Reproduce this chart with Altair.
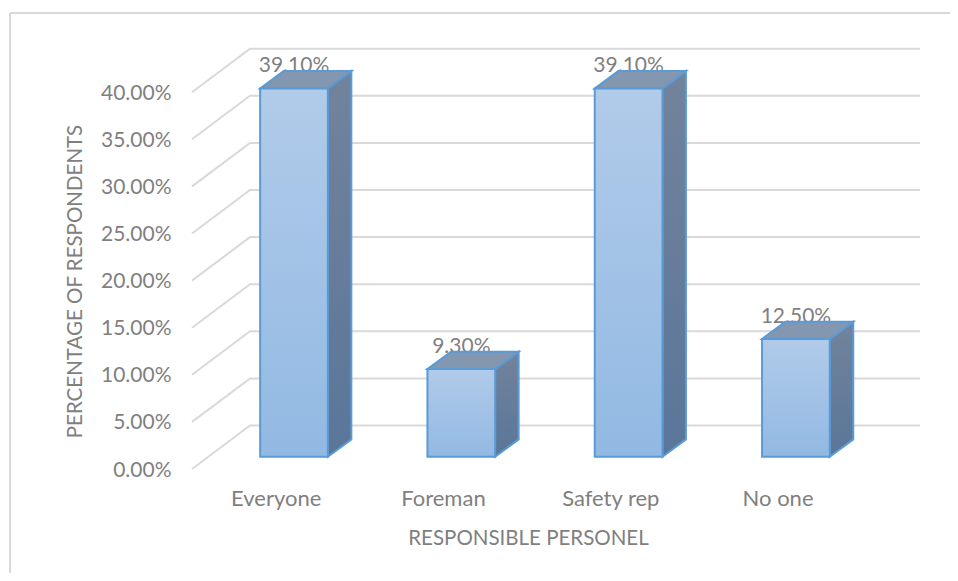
import altair as alt
import pandas as pd

categories = ["Everyone", "Foreman", "Safety rep", "No one"]
values = [0.391, 0.093, 0.391, 0.125]
ticks = [0.0, 0.05, 0.10, 0.15, 0.20, 0.25, 0.30, 0.35, 0.40]

FONT = "Lato"
GREY = "#7f7f7f"
GRID = "#d9d9d9"
EDGE = "#5b9bd5"

# scale geometry (one category = 167.3 px, 1 % = 9.42 px)
W, H = 728, 420
X_MAX = W / 167.3
Y_MAX = H / 942.0
WALL_DX, WALL_DY = 58 / 167.3, 43.5 / 942.0
BAR_DX, BAR_DY = 23.5 / 167.3, 17.3 / 942.0
BAR_C, BAR_W = 102 / 167.3, 67.7 / 167.3
BASE = 12.3 / 942.0

xs = alt.Scale(domain=[0, X_MAX], nice=False, zero=False)
ys = alt.Scale(domain=[0, Y_MAX], nice=False, zero=False)

grid_rows = []
for t in ticks:
    grid_rows += [
        {"t": t, "x": 0, "y": t, "o": 0},
        {"t": t, "x": WALL_DX, "y": t + WALL_DY, "o": 1},
        {"t": t, "x": X_MAX, "y": t + WALL_DY, "o": 2},
    ]

front, side, top, labels = [], [], [], []
for i, (c, v) in enumerate(zip(categories, values)):
    x0 = i + BAR_C - BAR_W / 2
    x1 = x0 + BAR_W
    y1 = BASE + v
    front.append({"c": c, "x": x0, "x2": x1, "y": BASE, "y2": y1})
    side += [
        {"c": c, "x": x1, "y": BASE, "y2": y1},
        {"c": c, "x": x1 + BAR_DX, "y": BASE + BAR_DY, "y2": y1 + BAR_DY},
    ]
    top += [
        {"c": c, "y": y1, "x": x0, "x2": x1},
        {"c": c, "y": y1 + BAR_DY, "x": x0 + BAR_DX, "x2": x1 + BAR_DX},
    ]
    labels.append({"c": c, "x": i + BAR_C, "y": y1 + BAR_DY, "v": v})


def grad(a, b):
    return alt.LinearGradient(
        gradient="linear", x1=0, x2=0, y1=0, y2=1,
        stops=[alt.GradientStop(color=a, offset=0), alt.GradientStop(color=b, offset=1)],
    )


X = lambda **k: alt.X("x:Q", scale=xs, **k)
Y = lambda **k: alt.Y("y:Q", scale=ys, **k)

one = pd.DataFrame({"a": [0]})
frame_top = alt.Chart(one).mark_rule(color=GRID, strokeWidth=2).encode(
    x=alt.value(-182), x2=alt.value(758), y=alt.value(-36)
)
frame_left = alt.Chart(one).mark_rule(color=GRID, strokeWidth=2).encode(
    x=alt.value(-182), y=alt.value(-36), y2=alt.value(524)
)

grid = alt.Chart(pd.DataFrame(grid_rows)).mark_line(color=GRID, strokeWidth=2).encode(
    x=X(
        title="RESPONSIBLE PERSONEL",
        axis=alt.Axis(
            values=[0.5, 1.5, 2.5, 3.5],
            labelExpr="['Everyone','Foreman','Safety rep','No one'][floor(datum.value)]",
            domain=False, ticks=False, grid=False,
            labelPadding=19, labelFont=FONT, labelFontSize=22, labelColor=GREY,
            labelFlush=False, labelOverlap=False,
            titleFont=FONT, titleFontSize=20.5, titleFontWeight="normal", titleColor=GREY,
            titleX=336, titleY=59,
        ),
    ),
    y=Y(
        title="PERCENTAGE OF RESPONDENTS",
        axis=alt.Axis(
            values=ticks, format=".2%",
            domain=False, ticks=False, grid=False,
            labelPadding=21, labelFont=FONT, labelFontSize=21, labelColor=GREY,
            labelOverlap=False, labelOffset=1,
            titleFont=FONT, titleFontSize=20.5, titleFontWeight="normal", titleColor=GREY,
            titleX=-107, titleY=232,
        ),
    ),
    detail="t:N",
    order="o:Q",
)

text = alt.Chart(pd.DataFrame(labels)).mark_text(
    font=FONT, fontSize=21, color=GREY, baseline="alphabetic", dy=1
).encode(x=X(), y=Y(), text=alt.Text("v:Q", format=".2%"))

front_m = alt.Chart(pd.DataFrame(front)).mark_rect(
    color=grad("#b1cbe9", "#92b9e3"), stroke=EDGE, strokeWidth=2
).encode(x=X(), x2="x2:Q", y=Y(), y2="y2:Q")

side_m = alt.Chart(pd.DataFrame(side)).mark_area(
    color=grad("#72839c", "#5a7699"), stroke=EDGE, strokeWidth=2
).encode(x=X(), y=Y(), y2="y2:Q", detail="c:N")

top_m = alt.Chart(pd.DataFrame(top)).mark_area(
    orient="horizontal", color="#8497b0", stroke=EDGE, strokeWidth=2
).encode(y=Y(), x=X(), x2="x2:Q", detail="c:N")

chart = (
    alt.layer(frame_top, frame_left, grid, text, side_m, top_m, front_m)
    .properties(
        width=W, height=H,
        autosize=alt.AutoSizeParams(type="none"),
        padding={"left": 184, "top": 41, "right": 30, "bottom": 104},
    )
    .configure_view(stroke=None)
)

chart.save("out.html", embed_options={"renderer": "svg", "actions": False})
